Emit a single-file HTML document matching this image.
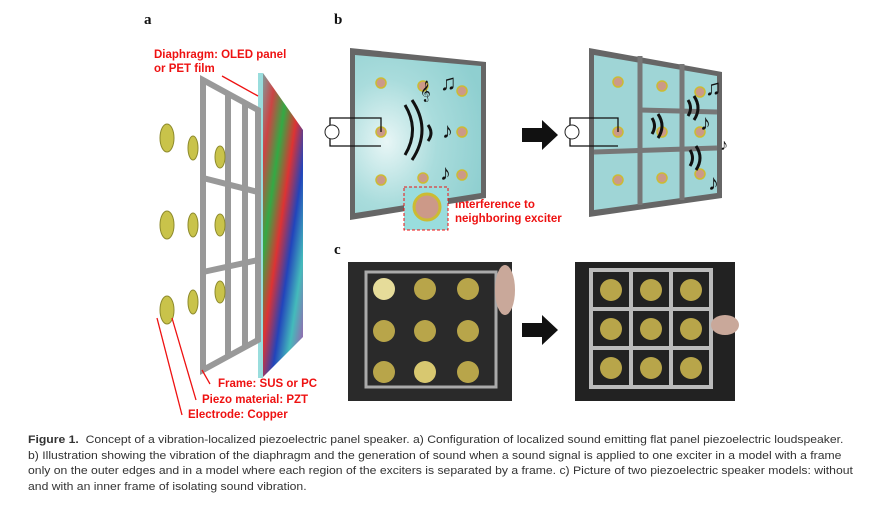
<!DOCTYPE html>
<html><head><meta charset="utf-8"><style>
body{margin:0;background:#fff;width:871px;height:512px;overflow:hidden;font-family:"Liberation Sans",sans-serif}
.cap{position:absolute;left:28px;top:433px;font-size:11.2px;line-height:15.5px;color:#333;white-space:nowrap;transform:scaleX(1.09);transform-origin:0 0}
</style></head><body>
<svg width="871" height="512" style="position:absolute;left:0;top:0">
<defs>
<linearGradient id="rb" x1="0" y1="0" x2="1" y2="1">
<stop offset="0" stop-color="#6bb"/><stop offset=".2" stop-color="#c44"/><stop offset=".35" stop-color="#3a4"/><stop offset=".5" stop-color="#d33"/><stop offset=".65" stop-color="#24b"/><stop offset=".8" stop-color="#4bb"/><stop offset="1" stop-color="#b4a"/>
</linearGradient>
<radialGradient id="tl" cx=".25" cy=".55" r=".8"><stop offset="0" stop-color="#e8f6f6"/><stop offset=".5" stop-color="#a9dcdc"/><stop offset="1" stop-color="#8fcfd0"/></radialGradient>
</defs>
<g font-family="Liberation Serif,serif" font-weight="bold" font-size="15" fill="#111">
<text x="144" y="24">a</text><text x="334" y="24">b</text><text x="334" y="254">c</text></g>
<!-- panel a -->
<polygon points="258,73 263,73 303,130 303,337 262,378 258,378" fill="url(#rb)"/>
<polygon points="258,73 263,73 263,378 258,378" fill="#9dd"/>
<g fill="none" stroke="#999" stroke-width="6">
<polygon points="203,80 258,110 258,340 203,370"/>
<line x1="228" y1="95" x2="228" y2="356"/><line x1="245" y1="103" x2="245" y2="347"/>
<line x1="203" y1="178" x2="258" y2="192"/><line x1="203" y1="272" x2="258" y2="260"/></g>
<g fill="#c9c34a" stroke="#8d8a2c">
<ellipse cx="167" cy="138" rx="7" ry="14"/><ellipse cx="167" cy="225" rx="7" ry="14"/><ellipse cx="167" cy="310" rx="7" ry="14"/>
<ellipse cx="193" cy="148" rx="5" ry="12"/><ellipse cx="193" cy="225" rx="5" ry="12"/><ellipse cx="193" cy="302" rx="5" ry="12"/>
<ellipse cx="220" cy="157" rx="5" ry="11"/><ellipse cx="220" cy="225" rx="5" ry="11"/><ellipse cx="220" cy="292" rx="5" ry="11"/></g>
<g fill="#e11" font-weight="bold" font-size="11.5">
<text x="154" y="58">Diaphragm: OLED panel</text><text x="154" y="72">or PET film</text>
<text x="218" y="387">Frame: SUS or PC</text><text x="202" y="403">Piezo material: PZT</text><text x="188" y="418">Electrode: Copper</text>
<text x="455" y="208">Interference to</text><text x="455" y="222">neighboring exciter</text>
<text x="599" y="103">Localized</text><text x="599" y="117">vibration</text></g>
<g stroke="#e11" stroke-width="1.3"><line x1="222" y1="76" x2="258" y2="96"/><line x1="210" y1="384" x2="202" y2="370"/><line x1="196" y1="400" x2="172" y2="318"/><line x1="182" y1="415" x2="157" y2="318"/></g>
<!-- panel b -->
<polygon points="350,48 486,62 486,198 350,220" fill="#666"/>
<polygon points="355,55 481,66 481,193 355,213" fill="url(#tl)"/>
<polygon points="589,48 722,72 722,198 589,217" fill="#666"/>
<polygon points="594,55 717,76 717,193 594,210" fill="#9fd5d6"/>
<g stroke="#777" stroke-width="5"><line x1="640" y1="56" x2="640" y2="205"/><line x1="682" y1="64" x2="682" y2="200"/><line x1="594" y1="152" x2="717" y2="148"/><line x1="640" y1="110" x2="717" y2="112"/></g>
<g fill="#c98" stroke="#cb3" stroke-width="1.5">
<circle cx="381" cy="83" r="5"/><circle cx="423" cy="86" r="5"/><circle cx="462" cy="91" r="5"/><circle cx="381" cy="132" r="5"/><circle cx="462" cy="132" r="5"/><circle cx="381" cy="180" r="5"/><circle cx="423" cy="178" r="5"/><circle cx="462" cy="175" r="5"/>
<circle cx="618" cy="82" r="5"/><circle cx="662" cy="86" r="5"/><circle cx="700" cy="92" r="5"/><circle cx="618" cy="132" r="5"/><circle cx="662" cy="132" r="5"/><circle cx="700" cy="132" r="5"/><circle cx="618" cy="180" r="5"/><circle cx="662" cy="178" r="5"/><circle cx="700" cy="174" r="5"/></g>
<rect x="404" y="187" width="44" height="43" fill="#9dd" stroke="#e11" stroke-dasharray="3,2"/><circle cx="427" cy="207" r="13" fill="#c98" stroke="#cb3" stroke-width="3"/>
<g fill="none" stroke="#111" stroke-width="1.3"><path d="M381 132 V118 H330 V146 H381"/><path d="M618 132 V118 H570 V146 H618"/></g>
<circle cx="332" cy="132" r="7" fill="#fff" stroke="#222"/><circle cx="572" cy="132" r="7" fill="#fff" stroke="#222"/>
<g fill="none" stroke="#111" stroke-width="3"><path d="M405 105 q15 25 0 50"/><path d="M412 100 q20 30 0 60"/><path d="M428 125 q6 8 0 16"/><path d="M652 118 q5 8 0 16"/><path d="M658 114 q8 12 0 24"/><path d="M688 100 q5 8 0 16"/><path d="M694 96 q8 12 0 24"/><path d="M690 150 q5 8 0 16"/><path d="M696 146 q8 12 0 24"/></g>
<g font-size="22" fill="#111"><text x="440" y="90">♫</text><text x="442" y="138">♪</text><text x="440" y="180">♪</text><text x="420" y="97" font-size="18">𝄞</text><text x="705" y="95">♫</text><text x="720" y="150" font-size="16">♪</text><text x="708" y="190">♪</text><text x="700" y="130">♪</text></g>
<polygon points="522,128 542,128 542,120 558,135 542,150 542,142 522,142" fill="#111"/>
<!-- panel c -->
<rect x="348" y="262" width="164" height="139" fill="#2a2a2a"/>
<rect x="366" y="272" width="130" height="115" fill="none" stroke="#aaa" stroke-width="3"/>
<rect x="575" y="262" width="160" height="139" fill="#222"/>
<g fill="none" stroke="#bbb" stroke-width="4"><rect x="591" y="270" width="120" height="117"/><line x1="631" y1="270" x2="631" y2="387"/><line x1="671" y1="270" x2="671" y2="387"/><line x1="591" y1="309" x2="711" y2="309"/><line x1="591" y1="348" x2="711" y2="348"/></g>
<g fill="#b8a54a"><circle cx="384" cy="289" r="11" fill="#e6dc9a"/><circle cx="425" cy="289" r="11"/><circle cx="468" cy="289" r="11"/><circle cx="384" cy="331" r="11"/><circle cx="425" cy="331" r="11"/><circle cx="468" cy="331" r="11"/><circle cx="384" cy="372" r="11"/><circle cx="425" cy="372" r="11" fill="#d8c870"/><circle cx="468" cy="372" r="11"/>
<circle cx="611" cy="290" r="11"/><circle cx="651" cy="290" r="11"/><circle cx="691" cy="290" r="11"/><circle cx="611" cy="329" r="11"/><circle cx="651" cy="329" r="11"/><circle cx="691" cy="329" r="11"/><circle cx="611" cy="368" r="11"/><circle cx="651" cy="368" r="11"/><circle cx="691" cy="368" r="11"/></g>
<ellipse cx="505" cy="290" rx="10" ry="25" fill="#c9a89a"/><ellipse cx="725" cy="325" rx="14" ry="10" fill="#c9a89a"/>
<polygon points="522,323 542,323 542,315 558,330 542,345 542,337 522,337" fill="#111"/>
</svg>
<div class="cap"><b>Figure 1.</b>&nbsp; Concept of a vibration-localized piezoelectric panel speaker. a) Configuration of localized sound emitting flat panel piezoelectric loudspeaker.<br>b) Illustration showing the vibration of the diaphragm and the generation of sound when a sound signal is applied to one exciter in a model with a frame<br>only on the outer edges and in a model where each region of the exciters is separated by a frame. c) Picture of two piezoelectric speaker models: without<br>and with an inner frame of isolating sound vibration.</div>
</body></html>
